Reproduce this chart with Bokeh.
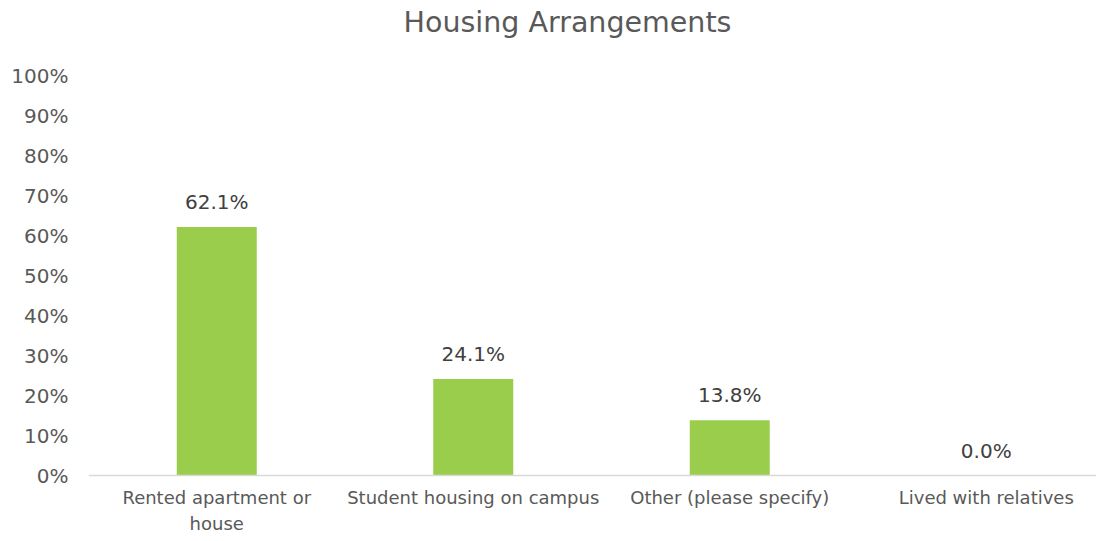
from bokeh.plotting import figure
from bokeh.models import Range1d, FixedTicker, NumeralTickFormatter, ColumnDataSource, Label, Span
from bokeh.embed import file_html
from bokeh.resources import INLINE
from bokeh.core.properties import value

# ---- data ----
categories = ["Rented apartment or\nhouse", "Student housing on campus",
              "Other (please specify)", "Lived with relatives"]
shares = [0.621, 0.241, 0.138, 0.0]
share_labels = ["62.1%", "24.1%", "13.8%", "0.0%"]
y_ticks = [0.0, 0.1, 0.2, 0.3, 0.4, 0.5, 0.6, 0.7, 0.8, 0.9, 1.0]
title_text = "Housing Arrangements"

# ---- layout ----
W, H = 1096, 533
left = 88
zero_px = 475          # pixel row of the 0% baseline from the top
px_per_y = 400.0
px_per_x = 256.5
x_start = -0.5
x_end = x_start + (W - left) / px_per_x
y_end = zero_px / px_per_y
y_start = -(H - zero_px) / px_per_y

FONT = "DejaVu Sans"
AX_COLOR = "#595959"

xs = list(range(len(categories)))
src = ColumnDataSource(dict(x=xs, top=shares, lab=share_labels,
                            cat=categories, base=[0.0] * len(xs)))

p = figure(width=W, height=H, output_backend="svg", toolbar_location=None,
           x_range=Range1d(x_start, x_end), y_range=Range1d(y_start, y_end),
           min_border_left=left, min_border_right=0, min_border_top=0,
           min_border_bottom=0)
p.outline_line_color = None
p.xgrid.visible = False
p.ygrid.visible = False
p.background_fill_color = "white"
p.border_fill_color = "white"
p.xaxis.visible = False

p.vbar(x="x", top="top", width=80 / px_per_x, source=src,
       fill_color="#9BCD4C", line_color=None)

# baseline (category axis line)
p.add_layout(Span(location=0, dimension="width", line_color="#D9D9D9", line_width=1.5))

# value labels
p.text(x="x", y="top", text="lab", source=src, text_align="center",
       text_baseline="middle", y_offset=-25, text_font=value(FONT),
       text_font_size="20px", text_color="#404040")

# category labels
p.text(x="x", y="base", text="cat", source=src, text_align="center",
       text_baseline="top", y_offset=11, text_font=value(FONT),
       text_font_size="18px", text_line_height=1.25, text_color=AX_COLOR)

# title
title_x = x_start + (567 - left) / px_per_x
title_y = (zero_px - 22) / px_per_y
p.add_layout(Label(x=title_x, y=title_y, text=title_text, text_align="center",
                   text_baseline="middle", text_font=FONT, text_font_size="28.5px",
                   text_color="#595959"))

# y axis
p.yaxis.ticker = FixedTicker(ticks=y_ticks)
p.yaxis.formatter = NumeralTickFormatter(format="0%")
p.yaxis.axis_line_color = None
p.yaxis.major_tick_line_color = None
p.yaxis.minor_tick_line_color = None
p.yaxis.major_tick_out = 0
p.yaxis.major_label_standoff = 20
p.yaxis.major_label_text_font = FONT
p.yaxis.major_label_text_font_size = "20px"
p.yaxis.major_label_text_color = AX_COLOR

open("out.html", "w").write(file_html(p, INLINE))
